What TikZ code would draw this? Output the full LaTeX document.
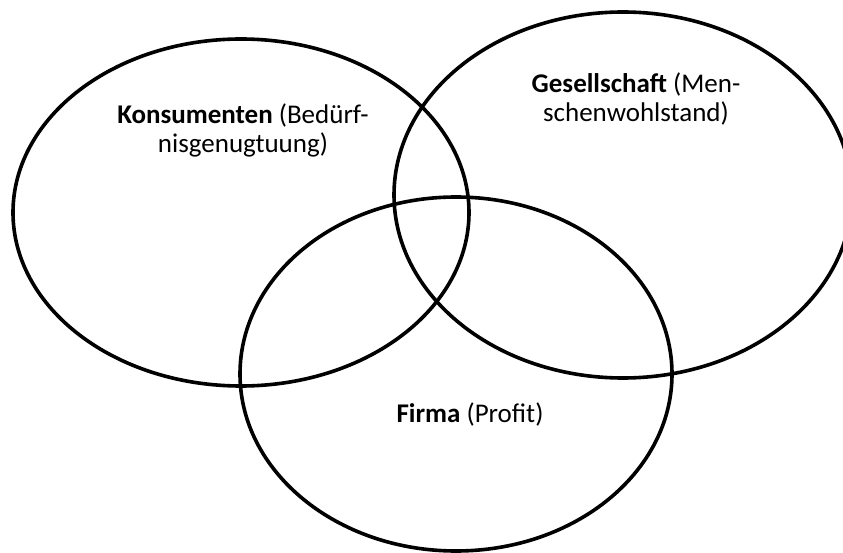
\documentclass[tikz,border=0pt]{standalone}
\usepackage{fontspec}
\setmainfont{Carlito}
\begin{document}
\begin{tikzpicture}[x=1pt,y=-1pt,
  venn/.style={draw=black,line width=3.6pt},
  lbl/.style={align=center,font=\fontsize{27}{29}\selectfont,inner sep=0pt}]
\useasboundingbox (0,0) rectangle (843,553);
\coordinate (ck) at (241,212.5);
\coordinate (cg) at (623,195);
\coordinate (cf) at (456,374);
\draw[venn] (ck) ellipse [x radius=228pt, y radius=173.5pt];
\draw[venn] (cg) ellipse [x radius=229pt, y radius=183pt];
\draw[venn] (cf) ellipse [x radius=216pt, y radius=177pt];
\node[lbl] (konsumenten) at (243,130) {\textbf{Konsumenten} (Bedürf-\\nisgenugtuung)};
\node[lbl] (gesellschaft) at (636,99) {\textbf{Gesellschaft} (Men-\\schenwohlstand)};
\node[lbl,anchor=base] (firma) at (470,422) {\textbf{Firma} (Profit)};
\end{tikzpicture}
\end{document}
